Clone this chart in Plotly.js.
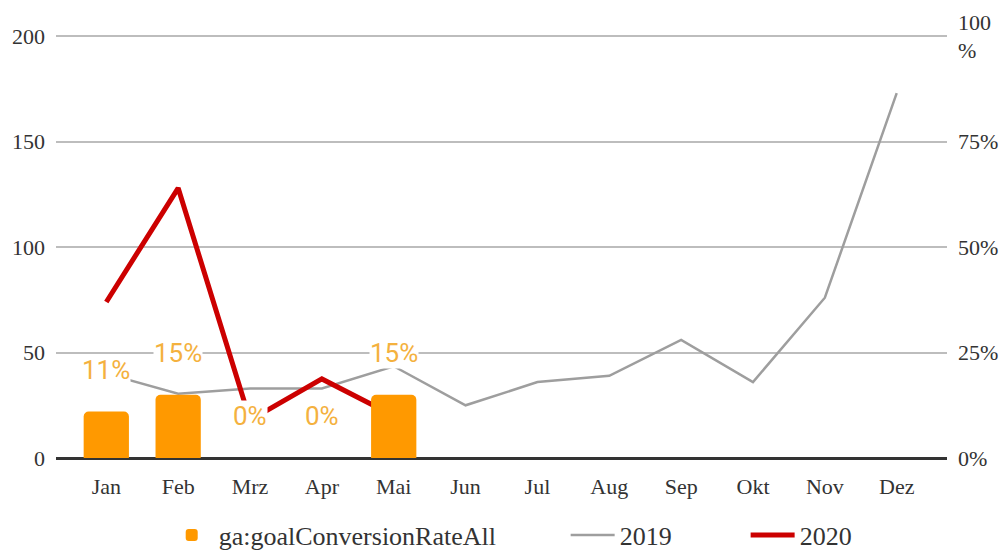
<!DOCTYPE html>
<html>
<head>
<meta charset="utf-8">
<script src="https://cdn.plot.ly/plotly-3.0.1.min.js"></script>
<style>html,body{margin:0;padding:0;background:#fff;}#chart{width:1006px;height:554px;}</style>
</head>
<body>
<div id="chart"></div>
<script>
const months = ['Jan','Feb','Mrz','Apr','Mai','Jun','Jul','Aug','Sep','Okt','Nov','Dez'];
const convMonths = ['Jan','Feb','Mrz','Apr','Mai'];
const convRate = [11, 15, 0, 0, 15];
const convLabels = ['11%','15%','0%','0%','15%'];
const sessions2019 = [40, 30.5, 33, 33, 43.5, 25, 36, 39, 56, 36, 76, 173];
const sessions2020 = [74, 128, 18, 37.5, 20];
const leftTicks = [0, 50, 100, 150, 200];
const rightTicks = [0, 25, 50, 75, 100];
const rightTickText = ['0%','25%','50%','75%','100<br>%'];

const serif = 'Liberation Serif, Times New Roman, serif';

const traces = [
  {
    type: 'bar', name: 'ga:goalConversionRateAll',
    x: convMonths, y: convRate, yaxis: 'y2', legend: 'legend',
    marker: {color: '#FF9900', cornerradius: 5},
    width: 0.63, hoverinfo: 'skip'
  },
  {
    type: 'scatter', mode: 'lines', name: '2019',
    x: months, y: sessions2019, legend: 'legend2',
    line: {color: '#9E9E9E', width: 2.5}
  },
  {
    type: 'scatter', mode: 'lines', name: '2020',
    x: convMonths, y: sessions2020, legend: 'legend3',
    line: {color: '#CC0000', width: 5}
  }
];

const annotations = convMonths.map((m, i) => ({
  x: m, y: convRate[i], xref: 'x', yref: 'y2',
  text: convLabels[i], showarrow: false,
  yanchor: 'middle', yshift: 42,
  bgcolor: '#ffffff', borderpad: 0,
  font: {family: 'Roboto, sans-serif', size: 26, color: '#F4B13E'}
}));

function legendAt(x) {
  return {
    orientation: 'h', x: x, xanchor: 'left', y: -0.182, yanchor: 'middle',
    font: {family: serif, size: 26, color: '#333'},
    itemwidth: 44, bgcolor: 'rgba(0,0,0,0)'
  };
}

const layout = {
  width: 1006, height: 554,
  margin: {l: 56, r: 59, t: 35, b: 96, autoexpand: false},
  paper_bgcolor: '#fff', plot_bgcolor: '#fff',
  showlegend: true,
  legend: legendAt(0.122),
  legend2: legendAt(0.572),
  legend3: legendAt(0.774),
  xaxis: {
    type: 'category', categoryorder: 'array', categoryarray: months,
    range: [-0.7, 11.7],
    showgrid: false, zeroline: false, showline: false,
    ticks: '', tickfont: {family: serif, size: 22, color: '#333'},
    ticklabelstandoff: 13,
    fixedrange: true
  },
  yaxis: {
    range: [0, 200.6], tickvals: leftTicks,
    showgrid: true, gridcolor: '#BDBDBD', gridwidth: 2,
    zeroline: true, zerolinecolor: '#333', zerolinewidth: 3,
    showline: false, ticks: '',
    tickfont: {family: serif, size: 22, color: '#333'},
    ticklabelstandoff: 10
  },
  yaxis2: {
    overlaying: 'y', side: 'right',
    range: [0, 100.3], tickvals: rightTicks, ticktext: rightTickText,
    showgrid: false, zeroline: false, showline: false, ticks: '',
    tickfont: {family: serif, size: 22, color: '#333'},
    ticklabelstandoff: 10
  },
  annotations: annotations
};

Plotly.newPlot('chart', traces, layout, {displayModeBar: false, staticPlot: true});
</script>
</body>
</html>
